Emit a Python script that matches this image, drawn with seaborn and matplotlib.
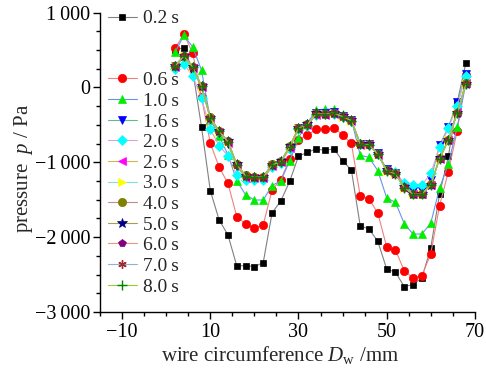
import numpy as np
import pandas as pd
import seaborn as sns
import matplotlib
matplotlib.use("Agg")
import matplotlib.pyplot as plt
from matplotlib.lines import Line2D
from matplotlib.ticker import MultipleLocator, FixedLocator, FuncFormatter

# ---- data ----
x_mm = [2, 4, 6, 8, 10, 12, 14, 16, 18, 20, 22, 24, 26, 28, 30, 32, 34,
        36, 38, 40, 42, 44, 46, 48, 50, 52, 54, 56, 58, 60, 62, 64, 66, 68]

labels = ["0.2\u2009s", "0.6\u2009s", "1.0\u2009s", "1.6\u2009s", "2.0\u2009s", "2.6\u2009s",
          "3.0\u2009s", "4.0\u2009s", "5.0\u2009s", "6.0\u2009s", "7.0\u2009s", "8.0\u2009s"]

p_02 = [500, 531, 230, -527, -1380, -1770, -1970, -2384, -2380, -2393, -2340, -1677, -1515, -1255,
        -918, -869, -820, -842, -820, -980, -1104, -1847, -1891, -2056, -2424, -2469, -2660, -2633,
        -2544, -2144, -1424, -922, -200, 331]
p_06 = [523, 709, 460, -130, -745, -1065, -1282, -1725, -1824, -1880, -1835, -1371, -1230, -960,
        -704, -635, -560, -560, -540, -635, -749, -1447, -1485, -1682, -2127, -2171, -2450, -2544,
        -2513, -2224, -1580, -1125, -580, 170]
p_10 = [470, 695, 540, 230, -430, -650, -900, -1247, -1433, -1504, -1504, -1310, -1247, -980,
        -672, -480, -300, -291, -291, -350, -430, -905, -935, -1113, -1475, -1535, -1820, -1960,
        -1957, -1815, -1345, -1024, -530, 60]
p_16 = [290, 400, 260, 10, -420, -610, -760, -1060, -1200, -1210, -1210, -1040, -995, -800,
        -545, -500, -345, -345, -335, -380, -435, -750, -760, -880, -1090, -1140, -1310, -1390,
        -1390, -1240, -770, -530, -200, 184]
p_20 = [250, 312, 153, -144, -558, -780, -913, -1167, -1230, -1240, -1230, -1060, -1010, -820,
        -560, -510, -370, -360, -355, -400, -450, -760, -770, -890, -1100, -1130, -1280, -1300,
        -1300, -1149, -802, -544, -247, 150]
p_26 = [270, 405, 262, 5, -420, -600, -740, -1050, -1205, -1215, -1212, -1050, -1000, -805,
        -550, -505, -362, -362, -350, -398, -452, -765, -772, -900, -1115, -1160, -1340, -1430,
        -1428, -1305, -955, -700, -335, 58]
p_30 = [282, 415, 268, 12, -410, -590, -728, -1035, -1188, -1200, -1200, -1038, -992, -795,
        -545, -498, -352, -355, -343, -390, -444, -760, -766, -893, -1110, -1155, -1337, -1426,
        -1425, -1302, -952, -705, -342, 50]
p_40 = [292, 425, 278, 22, -400, -580, -718, -1025, -1176, -1190, -1190, -1028, -985, -786,
        -536, -490, -346, -349, -336, -383, -436, -752, -760, -887, -1103, -1148, -1330, -1420,
        -1420, -1296, -946, -700, -336, 54]
p_50 = [289, 422, 275, 20, -403, -583, -720, -1028, -1178, -1193, -1193, -1031, -988, -788,
        -538, -493, -348, -351, -338, -385, -438, -755, -762, -889, -1106, -1151, -1333, -1422,
        -1422, -1298, -948, -702, -338, 52]
p_60 = [287, 420, 273, 18, -405, -585, -722, -1030, -1180, -1195, -1195, -1033, -990, -790,
        -540, -495, -350, -353, -340, -387, -440, -757, -764, -891, -1108, -1153, -1335, -1424,
        -1424, -1300, -950, -704, -340, 51]
p_70 = [285, 418, 271, 16, -407, -587, -724, -1032, -1182, -1197, -1197, -1035, -992, -792,
        -542, -497, -352, -355, -342, -389, -442, -759, -766, -893, -1110, -1155, -1337, -1426,
        -1426, -1302, -952, -706, -342, 49]
p_80 = [284, 417, 270, 15, -408, -588, -725, -1033, -1183, -1198, -1198, -1036, -993, -793,
        -543, -498, -353, -356, -343, -390, -443, -760, -767, -894, -1111, -1156, -1338, -1427,
        -1427, -1303, -953, -707, -343, 48]

series = [p_02, p_06, p_10, p_16, p_20, p_26, p_30, p_40, p_50, p_60, p_70, p_80]

# ---- styles ----
line_colors = ["#808080", "#F08080", "#6495ED", "#5CC08A", "#DDA0DD", "#D2B450",
               "#7FDFDF", "#BC8F8F", "#A8A048", "#E9967A", "#8CB4D2", "#9ACD32"]
marker_colors = ["#000000", "#FF0000", "#00EE00", "#0000FF", "#00FFFF", "#FF00FF",
                 "#FFFF00", "#808000", "#000080", "#800080", "#A0282C", "#008000"]
markers = ["s", "o", "^", "v", "D", "<", ">", "o", "*", "p", (6, 2, 0), "+"]
msizes = [5, 6, 6, 6, 5, 6, 6, 6, 7, 6, 6, 6.5]

sns.set_style("ticks")
plt.rcParams["font.family"] = ["Liberation Serif", "DejaVu Serif"]
plt.rcParams["mathtext.fontset"] = "custom"
plt.rcParams["mathtext.rm"] = "Liberation Serif"
plt.rcParams["mathtext.it"] = "Liberation Serif:italic"

fig = plt.figure(figsize=(4.86, 3.68), dpi=100)
ax = fig.add_axes([0.206, 0.152, 0.771, 0.814])

handles = []
for vals, lab, lc, mc, mk, ms in zip(series, labels, line_colors, marker_colors, markers, msizes):
    df = pd.DataFrame({"x": x_mm, "p": vals})
    lined = mk in ("+", (6, 2, 0))
    sns.lineplot(data=df, x="x", y="p", ax=ax, color=lc, linewidth=0.8,
                 marker=mk, markersize=ms, markerfacecolor=mc, markeredgecolor=mc,
                 markeredgewidth=1.0 if lined else 0.5, estimator=None, sort=False,
                 legend=False)
    handles.append(Line2D([], [], color=lc, linewidth=0.8, marker=mk, markersize=ms,
                          markerfacecolor=mc, markeredgecolor=mc,
                          markeredgewidth=1.0 if lined else 0.5, label=lab))

blank = Line2D([], [], linestyle="none", marker=None, label=" ")
leg_handles = [handles[0], blank, blank] + handles[1:]
leg = ax.legend(handles=leg_handles, loc="upper left", bbox_to_anchor=(0.0, 1.035),
                frameon=False, fontsize=14, handlelength=1.5, handletextpad=0.3,
                labelspacing=0.155, borderaxespad=0.2, borderpad=0.2)

ax.set_xlim(-15, 70)
ax.set_ylim(-3000, 1000)
ax.xaxis.set_major_locator(FixedLocator([-10, 10, 30, 50, 70]))
ax.xaxis.set_minor_locator(MultipleLocator(5))
ax.yaxis.set_major_locator(MultipleLocator(1000))
ax.yaxis.set_minor_locator(MultipleLocator(250))

def yfmt(v, pos):
    s = f"{abs(int(round(v))):,}".replace(",", "\u2009")
    return ("\u2212" + s) if v < 0 else s

def xfmt(v, pos):
    return ("\u2212" + str(abs(int(v)))) if v < 0 else str(int(v))

ax.yaxis.set_major_formatter(FuncFormatter(yfmt))
ax.xaxis.set_major_formatter(FuncFormatter(xfmt))
ax.tick_params(axis="both", which="major", direction="out", length=5, width=1,
               labelsize=14.5, color="black", labelcolor="black", pad=2)
ax.tick_params(axis="x", which="major", pad=3)
ax.tick_params(axis="both", which="minor", direction="out", length=3, width=1, color="black")

sns.despine(ax=ax, top=True, right=True)
for s in ("left", "bottom"):
    ax.spines[s].set_color("black")
    ax.spines[s].set_linewidth(1.0)

ax.set_xlabel("wire circumference $D_\\mathrm{w}$ /mm", fontsize=15)
ax.set_ylabel("pressure  $p$ / Pa", fontsize=15)
ax.xaxis.set_label_coords(0.48, -0.105)
ax.yaxis.set_label_coords(-0.175, 0.48)

fig.savefig("out.png", dpi=100)
